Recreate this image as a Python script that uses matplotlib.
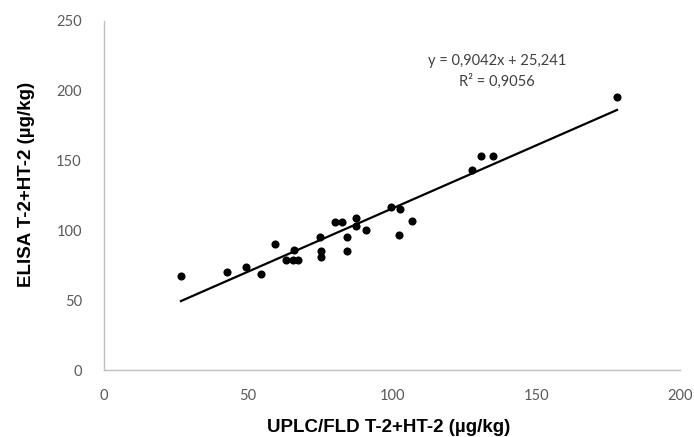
import numpy as np
import matplotlib
matplotlib.use("Agg")
import matplotlib.pyplot as plt

# UPLC/FLD vs ELISA, T-2+HT-2 (ug/kg)
uplc = [26.7, 42.7, 49.3, 54.5, 59.4, 63.2, 65.6, 65.9, 67.3, 75.0,
        75.3, 75.3, 80.2, 82.6, 84.4, 84.4, 87.5, 87.5, 91.0, 99.7,
        102.8, 102.4, 106.9, 127.8, 130.9, 135.1, 178.1]
elisa = [67, 70, 74, 69, 90, 79, 79, 86, 79, 95,
         85, 81, 105.7, 105.7, 95, 85, 108.6, 103, 100, 116.4,
         115, 96.4, 107, 143.6, 153.6, 153.6, 195.5]

slope = 0.9042
intercept = 25.241
eq_text = "y = 0,9042x + 25,241"
r2_text = "R² = 0,9056"

xticks = [0, 50, 100, 150, 200]
yticks = [0, 50, 100, 150, 200, 250]

TICK_FONT = ["Lato", "DejaVu Sans"]
LABEL_FONT = ["Liberation Sans", "DejaVu Sans"]
GREY = "#595959"

fig = plt.figure(figsize=(6.94, 4.37), dpi=100)
ax = fig.add_axes([0.1499, 0.1533, 0.98 - 0.1499, 0.952 - 0.1533])

ax.scatter(uplc, elisa, s=34, color="black", zorder=3, linewidths=0)

xl = np.array([min(uplc), max(uplc)])
ax.plot(xl, slope * xl + intercept, color="black", lw=1.6, zorder=2)

ax.text(136.5, 221, eq_text, ha="center", va="center", fontsize=10.5,
        family=TICK_FONT, color="#404040")
ax.text(136.5, 207, r2_text, ha="center", va="center", fontsize=10.5,
        family=TICK_FONT, color="#404040")

ax.set_xlim(0, 200)
ax.set_ylim(0, 250)
ax.set_xticks(xticks)
ax.set_yticks(yticks)
ax.tick_params(length=0, labelsize=10.5, labelcolor=GREY)
ax.tick_params(axis="y", pad=16)
ax.tick_params(axis="x", pad=14)
for lab in ax.get_xticklabels() + ax.get_yticklabels():
    lab.set_family(TICK_FONT)

for side in ["top", "right"]:
    ax.spines[side].set_visible(False)
for side in ["left", "bottom"]:
    ax.spines[side].set_color("#bfbfbf")
    ax.spines[side].set_linewidth(1)

fig.text(0.5605, 0.022, "UPLC/FLD T-2+HT-2 (µg/kg)", ha="center", va="center",
         fontsize=13.5, fontweight="bold", family=LABEL_FONT)
fig.text(0.0375, 0.579, "ELISA T-2+HT-2 (µg/kg)", ha="center", va="center",
         rotation=90, fontsize=13.5, fontweight="bold", family=LABEL_FONT)

fig.savefig("out.png", dpi=100)
